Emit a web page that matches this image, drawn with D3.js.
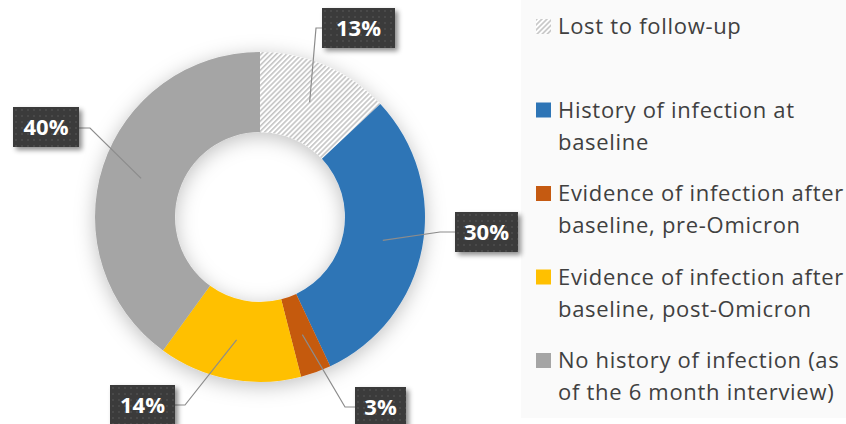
<!DOCTYPE html>
<meta charset="utf-8">
<title>Infection status donut</title>
<style>

body {
  margin: 0;
  background-color: white;
}

.legend text {
  font-family: "Open Sans", sans-serif;
  font-size: 22px;
  letter-spacing: 0.7px;
  fill: #404040;
}

.label text {
  font-family: "Open Sans", sans-serif;
  font-size: 22px;
  font-weight: bold;
  fill: white;
}

.leader {
  fill: none;
  stroke: #8c8c8c;
  stroke-width: 1.2px;
}

</style>
<body>
<script src="https://cdn.jsdelivr.net/npm/d3@7"></script>
<script>

var categories = [
  ["Lost to follow-up"],
  ["History of infection at", "baseline"],
  ["Evidence of infection after", "baseline, pre-Omicron"],
  ["Evidence of infection after", "baseline, post-Omicron"],
  ["No history of infection (as", "of the 6 month interview)"]
];

var values = [13, 30, 3, 14, 40];

var percentLabels = ["13%", "30%", "3%", "14%", "40%"];

var colors = ["url(#hatch)", "#2e75b6", "#c55a11", "#ffc000", "#a5a5a5"];

// label box placement: [x, y, width, elbow x, elbow y, side]
var labelBoxes = [
  [322, 8, 73, 316, 28, "left"],
  [455, 212, 63, 440, 232, "left"],
  [355, 387, 51, 345, 407, "left"],
  [110, 385, 65, 185, 405, "right"],
  [13, 107, 66, 90, 128, "right"]
];

var width = 846,
    height = 424,
    cx = 260,
    cy = 217,
    outer = 165,
    inner = 85;

var svg = d3.select("body").append("svg")
    .attr("width", width)
    .attr("height", height);

var defs = svg.append("defs");

var hatch = defs.append("pattern")
    .attr("id", "hatch")
    .attr("patternUnits", "userSpaceOnUse")
    .attr("width", 3.6)
    .attr("height", 3.6)
    .attr("patternTransform", "rotate(45)");
hatch.append("rect").attr("width", 3.6).attr("height", 3.6).attr("fill", "white");
hatch.append("rect").attr("width", 1.6).attr("height", 3.6).attr("fill", "#c4c4c4");

var dots = defs.append("pattern")
    .attr("id", "dots")
    .attr("patternUnits", "userSpaceOnUse")
    .attr("width", 6)
    .attr("height", 6);
dots.append("rect").attr("width", 6).attr("height", 6).attr("fill", "#3a3a3a");
dots.append("circle").attr("cx", 3).attr("cy", 3).attr("r", 0.8).attr("fill", "#5a5a5a");

defs.append("filter")
    .attr("id", "glow")
    .attr("x", "-30%").attr("y", "-30%").attr("width", "160%").attr("height", "160%")
  .append("feDropShadow")
    .attr("dx", 0).attr("dy", 4)
    .attr("stdDeviation", 10)
    .attr("flood-color", "#000")
    .attr("flood-opacity", 0.25);

defs.append("filter")
    .attr("id", "boxshadow")
    .attr("x", "-20%").attr("y", "-20%").attr("width", "150%").attr("height", "150%")
  .append("feDropShadow")
    .attr("dx", 3).attr("dy", 3)
    .attr("stdDeviation", 2.5)
    .attr("flood-color", "#000")
    .attr("flood-opacity", 0.45);

// legend panel
svg.append("rect")
    .attr("x", 521)
    .attr("y", 0)
    .attr("width", width - 521)
    .attr("height", 418)
    .attr("fill", "#fafafa");

var pie = d3.pie().sort(null).value(function(d) { return d; });
var arcs = pie(values);

var arc = d3.arc().innerRadius(inner).outerRadius(outer);
var mid = d3.arc().innerRadius(125).outerRadius(125);

var chart = svg.append("g")
    .attr("transform", "translate(" + cx + "," + cy + ")");

chart.append("g")
    .attr("filter", "url(#glow)")
  .selectAll("path")
    .data(arcs)
  .enter().append("path")
    .attr("d", arc)
    .attr("fill", function(d, i) { return colors[i]; });

// leader lines
chart.selectAll(".leader")
    .data(arcs)
  .enter().append("path")
    .attr("class", "leader")
    .attr("d", function(d, i) {
      var b = labelBoxes[i],
          c = mid.centroid(d),
          ex = b[5] === "left" ? b[0] : b[0] + b[2];
      return "M" + c[0] + "," + c[1] +
          "L" + (b[3] - cx) + "," + (b[4] - cy) +
          "L" + (ex - cx) + "," + (b[4] - cy);
    });

var label = svg.selectAll(".label")
    .data(percentLabels)
  .enter().append("g")
    .attr("class", "label")
    .attr("transform", function(d, i) { return "translate(" + labelBoxes[i][0] + "," + labelBoxes[i][1] + ")"; });

label.append("rect")
    .attr("width", function(d, i) { return labelBoxes[i][2]; })
    .attr("height", 40)
    .attr("fill", "url(#dots)")
    .attr("filter", "url(#boxshadow)");

label.append("text")
    .attr("x", function(d, i) { return labelBoxes[i][2] / 2; })
    .attr("y", 28)
    .attr("text-anchor", "middle")
    .text(function(d) { return d; });

// legend
var legend = svg.append("g")
    .attr("class", "legend")
  .selectAll("g")
    .data(categories)
  .enter().append("g")
    .attr("transform", function(d, i) { return "translate(536," + (34 + i * 83.5) + ")"; });

legend.append("rect")
    .attr("y", -15)
    .attr("width", 15)
    .attr("height", 15)
    .attr("fill", function(d, i) { return colors[i]; });

legend.append("text")
    .attr("x", 22)
    .selectAll("tspan")
    .data(function(d) { return d; })
  .enter().append("tspan")
    .attr("x", 22)
    .attr("dy", function(d, j) { return j ? 32 : 0; })
    .text(function(d) { return d; });

</script>
